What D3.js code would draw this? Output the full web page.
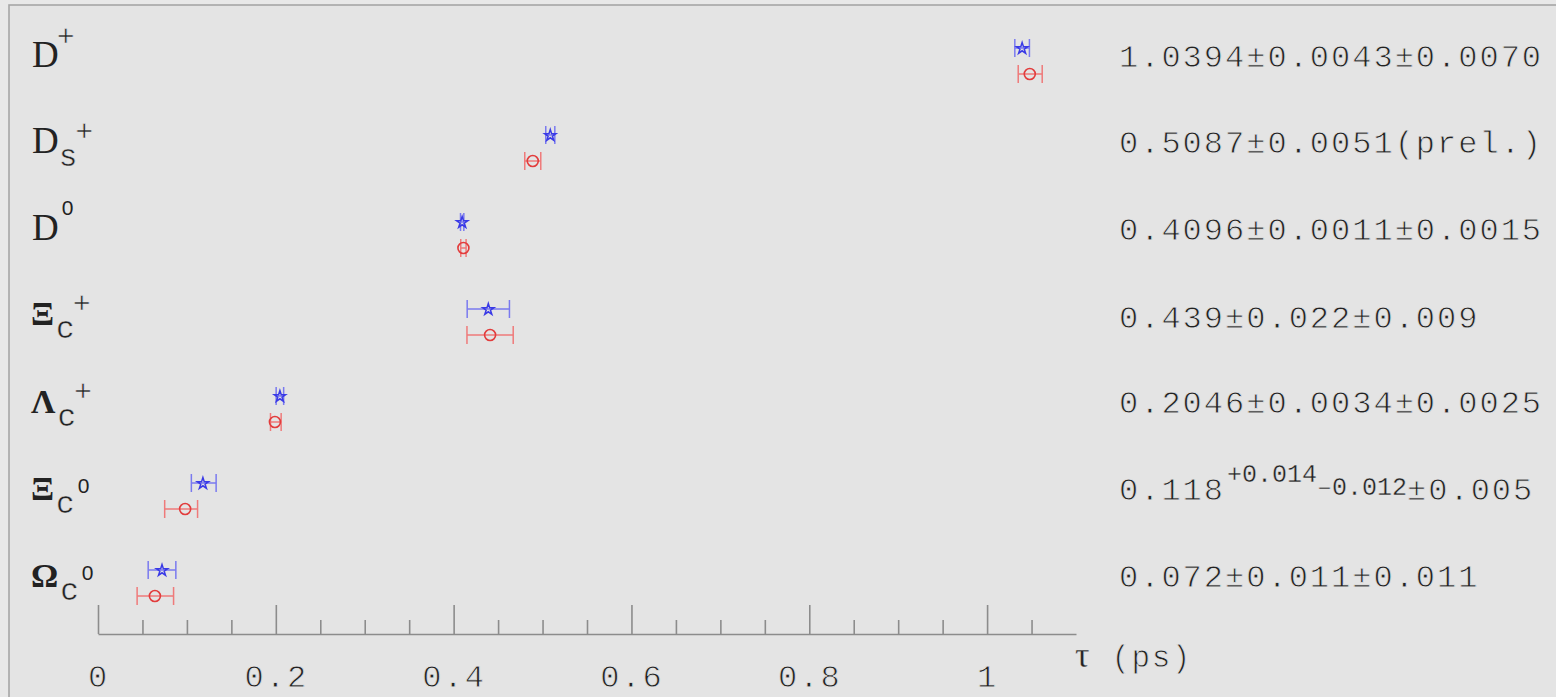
<!DOCTYPE html>
<html>
<head>
<meta charset="utf-8">
<script src="https://cdn.jsdelivr.net/npm/d3@7"></script>
<style>
  html, body { margin: 0; padding: 0; background: #e6e6e6; }
  svg { display: block; }
</style>
</head>
<body>
<svg id="chart" width="1556" height="697"></svg>
<script>
// Charm hadron lifetimes (ps)
const labelBase = ["D", "D", "D", "\u039E", "\u039B", "\u039E", "\u03A9"];
const labelSub  = ["",  "s", "",  "c",      "c",      "c",      "c"];
const labelSup  = ["+", "+", "0", "+",      "+",      "0",      "0"];

// Measured values with statistical and systematic uncertainties
const tauText     = ["1.0394", "0.5087", "0.4096", "0.439", "0.2046", "0.118", "0.072"];
const statUpText  = ["0.0043", "0.0051", "0.0011", "0.022", "0.0034", "0.014", "0.011"];
const statDnText  = ["0.0043", "0.0051", "0.0011", "0.022", "0.0034", "0.012", "0.011"];
const systText    = ["0.0070", "",       "0.0015", "0.009", "0.0025", "0.005", "0.011"];
const noteText    = ["",       "(prel.)", "",      "",      "",       "",      ""];

// Reference values (red circles)
const refTau = [1.048, 0.489, 0.411, 0.441, 0.199, 0.098, 0.064];
const refLo  = [1.035, 0.480, 0.408, 0.415, 0.194, 0.075, 0.044];
const refHi  = [1.062, 0.498, 0.414, 0.467, 0.206, 0.112, 0.085];

// Axis ticks
const majorTicks = [0, 0.2, 0.4, 0.6, 0.8, 1];
const majorTickLabels = ["0", "0.2", "0.4", "0.6", "0.8", "1"];
const minorTicks = [0.05, 0.1, 0.15, 0.25, 0.3, 0.35, 0.45, 0.5, 0.55, 0.65, 0.7, 0.75, 0.85, 0.9, 0.95, 1.05];

const svg = d3.select("#chart");
const W = 1556, H = 697;
const panelFill = "#e4e4e4";

svg.append("rect").attr("x", 0).attr("y", 0).attr("width", W).attr("height", H).attr("fill", "#e8e8e8");
svg.append("rect").attr("x", 9).attr("y", 5).attr("width", W).attr("height", H)
  .attr("fill", panelFill).attr("stroke", "#a6a6a6").attr("stroke-width", 1.6);

const x = d3.scaleLinear().domain([0, 1.1]).range([98, 1076]);
const rows = d3.range(labelBase.length);
const y = d3.scalePoint().domain(rows).range([61, 583]);
const starOff = -13, circOff = 13, capH = 9;

const monoFont = "'Liberation Mono', 'DejaVu Sans Mono', monospace";
const serifFont = "'Liberation Serif', 'DejaVu Serif', serif";
const sansFont = "'Liberation Sans', 'DejaVu Sans', sans-serif";

// thin the typewriter glyphs with a panel-coloured outline drawn over the fill
function thin(sel, w) {
  return sel.attr("stroke", panelFill).attr("stroke-width", w).attr("paint-order", "fill stroke");
}

// Axis
const axisY = 634;
const axisG = svg.append("g").attr("transform", `translate(0,${axisY})`);
axisG.call(d3.axisBottom(x).tickValues(majorTicks)
  .tickFormat((d, i) => majorTickLabels[i])
  .tickSize(-29).tickSizeOuter(0).tickPadding(30));
axisG.append("g").call(d3.axisBottom(x).tickValues(minorTicks).tickFormat("").tickSize(-14).tickSizeOuter(0))
  .select(".domain").remove();
axisG.selectAll("path.domain, line").attr("stroke", "#8c8c8c").attr("stroke-width", 1.6);
thin(axisG.selectAll("text")
  .attr("font-family", monoFont).attr("font-size", 32).attr("fill", "#222")
  .attr("letter-spacing", 2), 0.8);

// Axis title
const title = svg.append("text").attr("x", 1075).attr("y", 667).attr("fill", "#222");
thin(title.append("tspan").attr("font-family", serifFont).attr("font-size", 36).text("\u03C4"), 0.3);
thin(title.append("tspan").attr("font-family", monoFont).attr("font-size", 31)
  .attr("dx", 22).attr("letter-spacing", 1.5).text("(ps)"), 0.8);

// Particle labels
const baseline = [67, 153, 240, 325, 413, 500, 587];
rows.forEach(i => {
  const greek = labelBase[i] !== "D";
  const t = svg.append("text").attr("x", greek ? 31 : 32).attr("y", baseline[i]).attr("fill", "#222");
  t.append("tspan")
    .attr("font-family", serifFont)
    .attr("font-weight", greek ? "bold" : "normal")
    .attr("font-size", greek ? 34 : 37)
    .text(labelBase[i]);
  if (labelSub[i]) {
    thin(t.append("tspan").attr("font-family", monoFont).attr("font-size", 31)
      .attr("dx", greek ? 2 : 0).attr("dy", 13).text(labelSub[i]), 0.5);
  }
  const isZero = labelSup[i] === "0";
  const supDy = labelSub[i] ? (isZero ? -20 : -25) : (isZero ? -25 : -21);
  const sup = t.append("tspan")
    .attr("font-family", isZero ? sansFont : monoFont)
    .attr("font-size", isZero ? 21 : 30)
    .attr("dx", isZero ? 3 : -2)
    .attr("dy", supDy)
    .text(labelSup[i]);
  if (!isZero) thin(sup, 0.6);
});

// Uncertainty for the blue points (stat and syst in quadrature)
const blue = rows.map(i => {
  const v = +tauText[i];
  const s = systText[i] ? +systText[i] : 0;
  const up = Math.sqrt((+statUpText[i]) ** 2 + s * s);
  const dn = Math.sqrt((+statDnText[i]) ** 2 + s * s);
  return { i, v, lo: v - dn, hi: v + up };
});
const red = rows.map(i => ({ i, v: refTau[i], lo: refLo[i], hi: refHi[i] }));

function errorBars(data, off, color) {
  const g = svg.append("g").attr("stroke", color).attr("stroke-width", 1.5).attr("fill", "none");
  data.forEach(d => {
    const yy = y(d.i) + off;
    g.append("line").attr("x1", x(d.lo)).attr("x2", x(d.hi)).attr("y1", yy).attr("y2", yy);
    g.append("line").attr("x1", x(d.lo)).attr("x2", x(d.lo)).attr("y1", yy - capH).attr("y2", yy + capH);
    g.append("line").attr("x1", x(d.hi)).attr("x2", x(d.hi)).attr("y1", yy - capH).attr("y2", yy + capH);
  });
}
errorBars(blue, starOff, "#7a7aef");
errorBars(red, circOff, "#ef7a7a");

const star = d3.symbol().type(d3.symbolStar).size(40);
svg.append("g").selectAll("path").data(blue).join("path")
  .attr("d", star)
  .attr("transform", d => `translate(${x(d.v)},${y(d.i) + starOff + 0.5})`)
  .attr("fill", "none").attr("stroke", "#3a3ae6").attr("stroke-width", 1.5);

svg.append("g").selectAll("circle").data(red).join("circle")
  .attr("cx", d => x(d.v)).attr("cy", d => y(d.i) + circOff).attr("r", 5.5)
  .attr("fill", "none").attr("stroke", "#e23c3c").attr("stroke-width", 1.6);

// Value annotations
rows.forEach(i => {
  const t = svg.append("text").attr("x", 1119).attr("y", baseline[i] + (i === 3 ? 3 : 0))
    .attr("font-family", monoFont).attr("font-size", 32).attr("fill", "#222").attr("letter-spacing", 2);
  if (statUpText[i] === statDnText[i]) {
    let s = tauText[i] + "\u00B1" + statUpText[i];
    s += systText[i] ? "\u00B1" + systText[i] : noteText[i];
    thin(t, 0.8).text(s);
  } else {
    thin(t.append("tspan").text(tauText[i]), 0.8);
    thin(t.append("tspan").attr("font-size", 25).attr("letter-spacing", 0).attr("dx", 2).attr("dy", -18).text("+" + statUpText[i]), 0.35);
    thin(t.append("tspan").attr("font-size", 25).attr("letter-spacing", 0).attr("dx", 0).attr("dy", 13).text("\u2013" + statDnText[i]), 0.35);
    thin(t.append("tspan").attr("dy", 5).text("\u00B1" + systText[i]), 0.8);
  }
});
</script>
</body>
</html>
